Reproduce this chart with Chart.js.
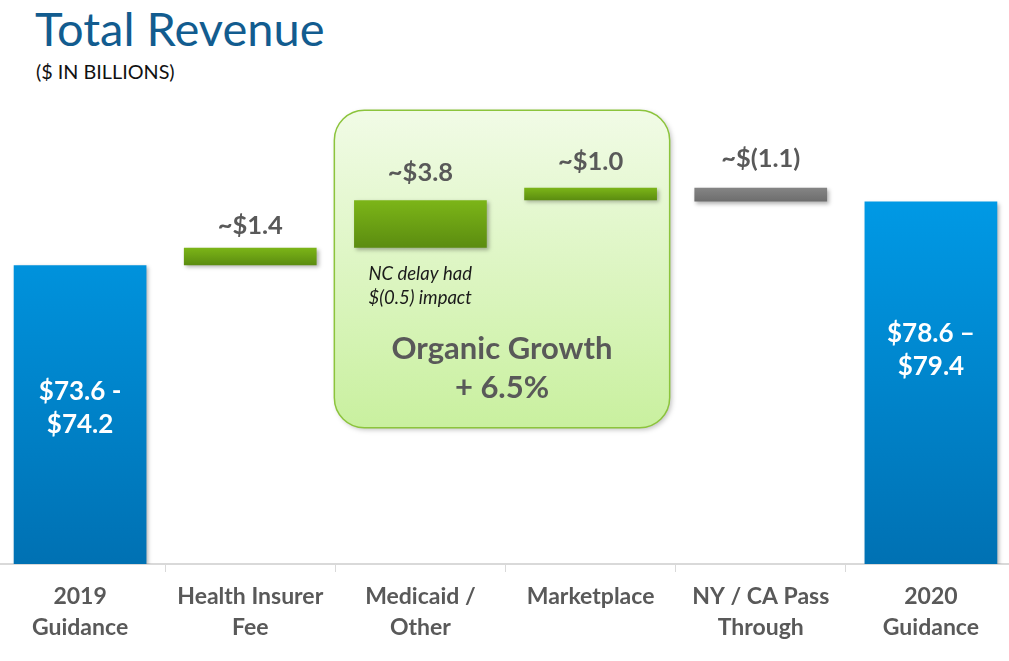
<!DOCTYPE html>
<html>
<head>
<meta charset="utf-8">
<script src="https://cdn.jsdelivr.net/npm/chart.js@4.4.1/dist/chart.umd.min.js"></script>
<style>
  html, body { margin: 0; padding: 0; background: #fff; overflow: hidden; }
  body { width: 1009px; height: 661px; position: relative; font-family: Lato, "Open Sans", sans-serif; }
  #title { position: absolute; left: 35px; top: 0px; font-size: 47px; color: #125c8f; line-height: 56px; }
  #sub { position: absolute; left: 36px; top: 59px; font-size: 19.8px; color: #111; }
  #wrap { position: absolute; left: -5px; top: 0; width: 1021px; height: 661px; }
</style>
</head>
<body>
<div id="title">Total Revenue</div>
<div id="sub">($ IN BILLIONS)</div>
<div id="wrap"><canvas id="revenue-chart" width="1021" height="661"></canvas></div>
<script>
// values in $ billions
var categories = [["2019", "Guidance"], ["Health Insurer", "Fee"], ["Medicaid /", "Other"], ["Marketplace"], ["NY / CA Pass", "Through"], ["2020", "Guidance"]];
var guidance2019 = 73.9;   // midpoint of 73.6 - 74.2
var steps = [1.4, 3.8, 1.0, -1.1];
var guidance2020 = 79.0;   // midpoint of 78.6 - 79.4
var stepLabels = ["~$1.4", "~$3.8", "~$1.0", "~$(1.1)"];
var rangeLabels = [["$73.6 -", "$74.2"], ["$78.6 \u2013", "$79.4"]];
var axisMin = 50;
var axisMax = 90;

// build floating bars for the waterfall
var bars = [[axisMin, guidance2019]];
var running = guidance2019;
steps.forEach(function (s) {
    bars.push([Math.min(running, running + s), Math.max(running, running + s)]);
    running += s;
});
bars.push([axisMin, guidance2020]);

function barFill(context) {
    var chart = context.chart;
    var area = chart.chartArea;
    var ys = chart.scales.y;
    var i = context.dataIndex;
    var isStep = i > 0 && i < categories.length - 1;
    var fallback = isStep ? (steps[i - 1] < 0 ? '#7a7a7a' : '#6ca215') : '#0088cc';
    if (!area || !ys) return fallback;
    var ctx = chart.ctx;
    if (!isStep) {
        var g = ctx.createLinearGradient(0, area.top + 130, 0, area.bottom);
        g.addColorStop(0, '#009ae6');
        g.addColorStop(1, '#0071b3');
        return g;
    }
    var top = ys.getPixelForValue(bars[i][1]);
    var bottom = ys.getPixelForValue(bars[i][0]);
    if (!isFinite(top) || !isFinite(bottom)) return fallback;
    var h = ctx.createLinearGradient(0, top, 0, bottom);
    if (steps[i - 1] < 0) {
        h.addColorStop(0, '#858585');
        h.addColorStop(1, '#6d6d6d');
    } else {
        h.addColorStop(0, '#7cb518');
        h.addColorStop(1, '#5b8c10');
    }
    return h;
}

function boxEdges(chart) {
    var xs = chart.scales.x;
    var half = (xs.getPixelForValue(1) - xs.getPixelForValue(0)) / 2;
    return { left: xs.getPixelForValue(2) - half - 1, right: xs.getPixelForValue(3) + half - 6 };
}

var growthBox = {
    id: 'growthBox',
    beforeDatasetsDraw: function (chart) {
        var ctx = chart.ctx;
        var ys = chart.scales.y;
        var e = boxEdges(chart);
        var top = ys.getPixelForValue(86.3);
        var bottom = ys.getPixelForValue(60.9);
        ctx.save();
        ctx.shadowColor = 'rgba(0,0,0,0.25)';
        ctx.shadowBlur = 5;
        ctx.shadowOffsetX = 2;
        ctx.shadowOffsetY = 2;
        var g = ctx.createLinearGradient(0, top, 0, bottom);
        g.addColorStop(0, '#f1fbe6');
        g.addColorStop(1, '#c9f09f');
        ctx.fillStyle = g;
        ctx.beginPath();
        ctx.roundRect(e.left, top, e.right - e.left, bottom - top, 30);
        ctx.fill();
        ctx.shadowColor = 'transparent';
        ctx.strokeStyle = '#8cc43c';
        ctx.lineWidth = 1.5;
        ctx.stroke();
        ctx.restore();
    },
    beforeDatasetDraw: function (chart) {
        var ctx = chart.ctx;
        ctx.save();
        ctx.shadowColor = 'rgba(0,0,0,0.3)';
        ctx.shadowBlur = 4;
        ctx.shadowOffsetX = 2;
        ctx.shadowOffsetY = 2;
    },
    afterDatasetDraw: function (chart) {
        chart.ctx.restore();
    }
};

var labelGap = [22, 27, 26, 29];

var barText = {
    id: 'barText',
    afterDatasetsDraw: function (chart) {
        var ctx = chart.ctx;
        var meta = chart.getDatasetMeta(0);
        ctx.save();
        ctx.textAlign = 'center';
        ctx.textBaseline = 'middle';
        // step labels above the bars
        ctx.fillStyle = '#595959';
        ctx.font = 'bold 25.5px Lato';
        stepLabels.forEach(function (lab, k) {
            var el = meta.data[k + 1];
            var top = Math.min(el.y, el.base);
            ctx.fillText(lab, el.x, top - labelGap[k]);
        });
        // guidance ranges inside the blue bars
        ctx.fillStyle = '#ffffff';
        ctx.font = 'bold 26px Lato';
        var first = meta.data[0], last = meta.data[categories.length - 1];
        ctx.fillText(rangeLabels[0][0], first.x, 392);
        ctx.fillText(rangeLabels[0][1], first.x, 425);
        ctx.fillText(rangeLabels[1][0], last.x, 334);
        ctx.fillText(rangeLabels[1][1], last.x, 367);
        // note under medicaid bar
        var med = meta.data[2];
        ctx.fillStyle = '#1a1a1a';
        ctx.font = 'italic 18.5px Lato';
        ctx.textAlign = 'left';
        ctx.fillText('NC delay had', med.x - 52, 274);
        ctx.fillText('$(0.5) impact', med.x - 52, 298);
        // organic growth caption
        var e = boxEdges(chart);
        var mid = (e.left + e.right) / 2;
        ctx.textAlign = 'center';
        ctx.fillStyle = '#595959';
        ctx.font = 'bold 31px Lato';
        ctx.fillText('Organic Growth', mid, 349);
        ctx.fillText('+ 6.5%', mid, 388);
        ctx.restore();
    }
};

const revenueChart = document.getElementById("revenue-chart");
var CHART = new Chart(revenueChart, {
    type: 'bar',
    data: {
        labels: categories,
        datasets: [{
            data: bars,
            backgroundColor: barFill,
            borderWidth: 0,
            barPercentage: 0.78,
            categoryPercentage: 1.0
        }]
    },
    options: {
        responsive: false,
        animation: false,
        layout: { padding: { top: 64, left: 0, right: 0, bottom: 0 } },
        plugins: {
            legend: { display: false },
            tooltip: { enabled: false }
        },
        scales: {
            x: {
                offset: true,
                grid: {
                    offset: true,
                    drawOnChartArea: false,
                    drawTicks: true,
                    tickLength: 8,
                    color: '#d9d9d9'
                },
                border: { display: true, color: '#d9d9d9', width: 2 },
                ticks: {
                    color: '#595959',
                    font: { family: 'Lato', size: 23, weight: 'bold', lineHeight: 1.36 },
                    padding: 9,
                    maxRotation: 0,
                    autoSkip: false
                },
                afterFit: function (scale) { scale.height = 97; }
            },
            y: {
                display: false,
                min: axisMin,
                max: axisMax
            }
        }
    },
    plugins: [growthBox, barText]
});
</script>
</body>
</html>
